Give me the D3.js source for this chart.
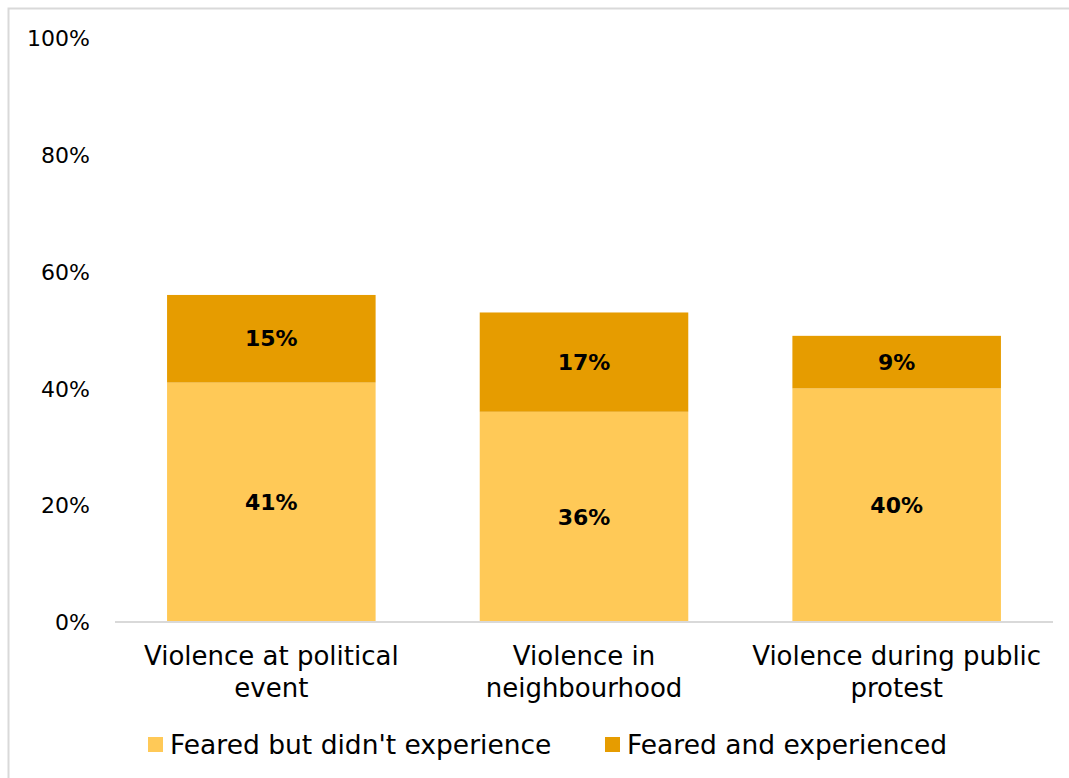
<!DOCTYPE html>
<html>
<head>
<meta charset="utf-8">
<script src="https://cdn.jsdelivr.net/npm/d3@7"></script>
<style>
  html, body { margin: 0; padding: 0; background: #fff; }
  svg { display: block; }
  text { font-family: "Century Gothic", "DejaVu Sans", sans-serif; fill: #000; }
</style>
</head>
<body>
<svg id="chart" width="1069" height="778"></svg>
<script>
// Share of respondents who feared each kind of violence
const categories = [
  ["Violence at political", "event"],
  ["Violence in", "neighbourhood"],
  ["Violence during public", "protest"]
];
const fearedNotExperienced = [41, 36, 40];
const fearedAndExperienced = [15, 17, 9];
const seriesNames = ["Feared but didn't experience", "Feared and experienced"];
const yTicks = [0, 20, 40, 60, 80, 100];

const colors = ["#FFC957", "#E69C00"];

const svg = d3.select("#chart");
const W = 1069, H = 778;

// Chart frame (runs off the right and bottom edges)
svg.append("rect")
  .attr("x", 8.5).attr("y", 8.5)
  .attr("width", W + 10).attr("height", H + 10)
  .attr("fill", "none").attr("stroke", "#d9d9d9").attr("stroke-width", 2);

const plot = { left: 115, right: 1053, top: 38, bottom: 622 };

const x = d3.scaleBand()
  .domain(d3.range(categories.length))
  .range([plot.left, plot.right])
  .paddingInner(0.333)
  .paddingOuter(0.1665);

const y = d3.scaleLinear().domain([0, 100]).range([plot.bottom, plot.top]);

const stacked = d3.stack().keys([0, 1])(
  categories.map((c, i) => ({ 0: fearedNotExperienced[i], 1: fearedAndExperienced[i] }))
);

// Y axis labels
const yAxis = d3.axisLeft(y).tickValues(yTicks).tickFormat(d => d + "%").tickSize(0).tickPadding(0);
const gy = svg.append("g").attr("transform", `translate(90,0)`).call(yAxis);
gy.select(".domain").remove();
gy.selectAll("text")
  .style("font-family", '"Century Gothic", "DejaVu Sans", sans-serif')
  .style("font-size", "22px").attr("fill", "#000").attr("dy", "0.35em");

// Bars
stacked.forEach((layer, k) => {
  svg.append("g").selectAll("rect")
    .data(layer)
    .join("rect")
    .attr("x", (d, i) => x(i))
    .attr("width", x.bandwidth())
    .attr("y", d => y(d[1]))
    .attr("height", d => y(d[0]) - y(d[1]))
    .attr("fill", colors[k]);

  svg.append("g").selectAll("text")
    .data(layer)
    .join("text")
    .attr("x", (d, i) => x(i) + x.bandwidth() / 2)
    .attr("y", d => (y(d[0]) + y(d[1])) / 2)
    .attr("dy", "0.35em")
    .attr("text-anchor", "middle")
    .style("font-size", "22px")
    .style("font-weight", "bold")
    .text(d => (d[1] - d[0]) + "%");
});

// Baseline
const xAxis = d3.axisBottom(x).tickSize(0).tickFormat("");
const gx = svg.append("g").attr("transform", `translate(0,${plot.bottom})`).call(xAxis);
gx.select(".domain").attr("stroke", "#d9d9d9").attr("stroke-width", 2)
  .attr("d", `M${plot.left},0H${plot.right}`);

// Category labels
const catG = svg.append("g");
categories.forEach((lines, i) => {
  const t = catG.append("text")
    .attr("x", x(i) + x.bandwidth() / 2)
    .attr("y", 665)
    .attr("text-anchor", "middle")
    .style("font-size", "26px");
  lines.forEach((ln, j) => {
    t.append("tspan").attr("x", x(i) + x.bandwidth() / 2).attr("dy", j === 0 ? 0 : 32).text(ln);
  });
});

// Legend
const legendItems = [
  { x: 148, name: seriesNames[0], color: colors[0] },
  { x: 605, name: seriesNames[1], color: colors[1] }
];
const lg = svg.append("g");
legendItems.forEach(it => {
  lg.append("rect").attr("x", it.x).attr("y", 737).attr("width", 15).attr("height", 15).attr("fill", it.color);
  lg.append("text").attr("x", it.x + 22).attr("y", 744.5).attr("dy", "0.35em")
    .style("font-size", "26.5px").text(it.name);
});
</script>
</body>
</html>
